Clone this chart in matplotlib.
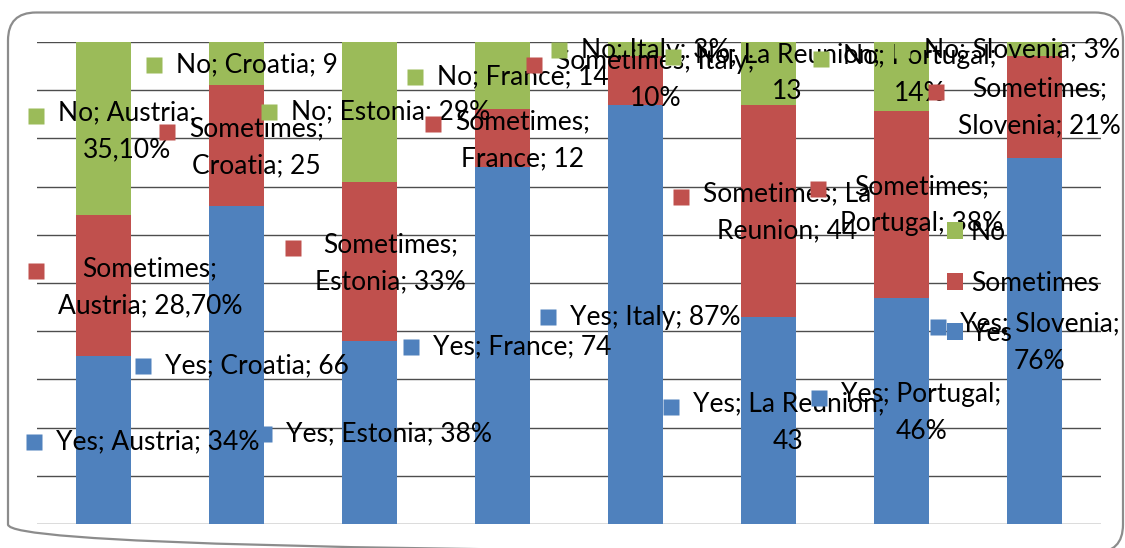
import textwrap
import numpy as np
import matplotlib
matplotlib.use('Agg')
import matplotlib.pyplot as plt
from matplotlib.patches import FancyBboxPatch

# survey answers per country (chart shows them as 100% stacked columns)
countries = ['Austria', 'Croatia', 'Estonia', 'France', 'Italy', 'La Reunion', 'Portugal', 'Slovenia']
yes = [34, 66, 38, 74, 87, 43, 46, 76]
sometimes = [28.7, 25, 33, 12, 10, 44, 38, 21]
no = [35.1, 9, 29, 14, 3, 13, 14, 3]

# values as printed in the data labels
yes_lbl = ['34%', '66', '38%', '74', '87%', '43', '46%', '76%']
some_lbl = ['28,70%', '25', '33%', '12', '10%', '44', '38%', '21%']
no_lbl = ['35,10%', '9', '29%', '14', '3%', '13', '14%', '3%']

series = ['Yes', 'Sometimes', 'No']
colors = ['#4F81BD', '#C0504D', '#9BBB59']

# label layout: (x offset from bar centre, y in %, wrap width; 0 = one line)
yes_pos = [(0.41, 17.0, 0), (0.15, 32.8, 0), (0.15, 18.7, 0), (0.15, 36.7, 0),
           (0.15, 42.9, 0), (0.15, 21.0, 16), (0.15, 23.0, 14), (0.04, 37.6, 14)]
some_pos = [(0.35, 49.2, 15), (0.15, 78.2, 11), (0.16, 54.1, 12), (0.15, 79.7, 10),
            (0.15, 92.1, 17), (0.14, 64.7, 13), (0.15, 66.2, 13), (0.04, 86.5, 13)]
no_pos = [(0.18, 81.5, 12), (0.15, 95.2, 0), (0.16, 85.5, 0), (0.15, 92.7, 0),
          (0.15, 98.3, 0), (0.14, 93.6, 15), (0.14, 93.2, 13), (-0.09, 98.3, 0)]

FONT = 'Lato'
FS = 19

W, H = 1125, 548
fig = plt.figure(figsize=(W / 100, H / 100), dpi=100)
fig.patch.set_facecolor('white')

# rounded chart frame
bg = fig.add_axes([0, 0, 1, 1])
bg.set_xlim(0, W)
bg.set_ylim(H, 0)
bg.axis('off')
bg.add_patch(FancyBboxPatch((8, 12.5), 1115, 540, boxstyle='round,pad=0,rounding_size=28',
                            fc='none', ec='#8c8c8c', lw=1.6))

ax = fig.add_axes([37 / W, 24 / H, 1064 / W, 482 / H])
ax.set_facecolor('none')

vals = [np.array(yes), np.array(sometimes), np.array(no)]
totals = vals[0] + vals[1] + vals[2]
x = np.arange(len(countries))
bottom = np.zeros(len(countries))
bars = []
for name, v, col in zip(series, vals, colors):
    share = v / totals * 100
    bars.append(ax.bar(x, share, 0.41, bottom=bottom, color=col, label=name, zorder=2))
    bottom += share

ax.set_xlim(-0.5, len(countries) - 0.5)
ax.set_ylim(0, 100)
ax.set_yticks(np.arange(0, 101, 10))
ax.set_xticks([])
ax.tick_params(left=False, labelleft=False)
ax.yaxis.grid(True, color='#4d4d4d', lw=1)
ax.set_axisbelow(True)
for s in ax.spines.values():
    s.set_visible(False)

# data labels
texts = []
for name, lbls, pos, col in zip(series, [yes_lbl, some_lbl, no_lbl], [yes_pos, some_pos, no_pos], colors):
    for i, (c, v) in enumerate(zip(countries, lbls)):
        dx, y, wrap = pos[i]
        s = f'{name}; {c}; {v}'
        if wrap:
            s = textwrap.fill(s, wrap)
        t = ax.text(i + dx, y, s, ha='center', va='center', multialignment='center',
                    fontsize=FS, family=FONT, linespacing=1.6, zorder=5)
        texts.append((t, col))

# legend key square to the left of each label's first line
fig.canvas.draw()
r = fig.canvas.get_renderer()
inv = ax.transData.inverted()
for t, col in texts:
    bb = t.get_window_extent(r)
    n = t.get_text().count('\n') + 1
    mx = bb.x0 - 22
    my = bb.y1 - bb.height / n / 2
    px, py = inv.transform((mx, my))
    ax.plot(px, py, marker='s', ms=11.5, color=col, mec='none', clip_on=False, zorder=6)

ax.legend(bars[::-1], series[::-1], loc='center left', bbox_to_anchor=(0.855, 0.5),
          frameon=False, prop={'family': FONT, 'size': FS}, handlelength=0.62,
          handleheight=0.62, handletextpad=0.3, labelspacing=0.97, borderpad=0,
          borderaxespad=0)

fig.savefig('out.png', dpi=100)
